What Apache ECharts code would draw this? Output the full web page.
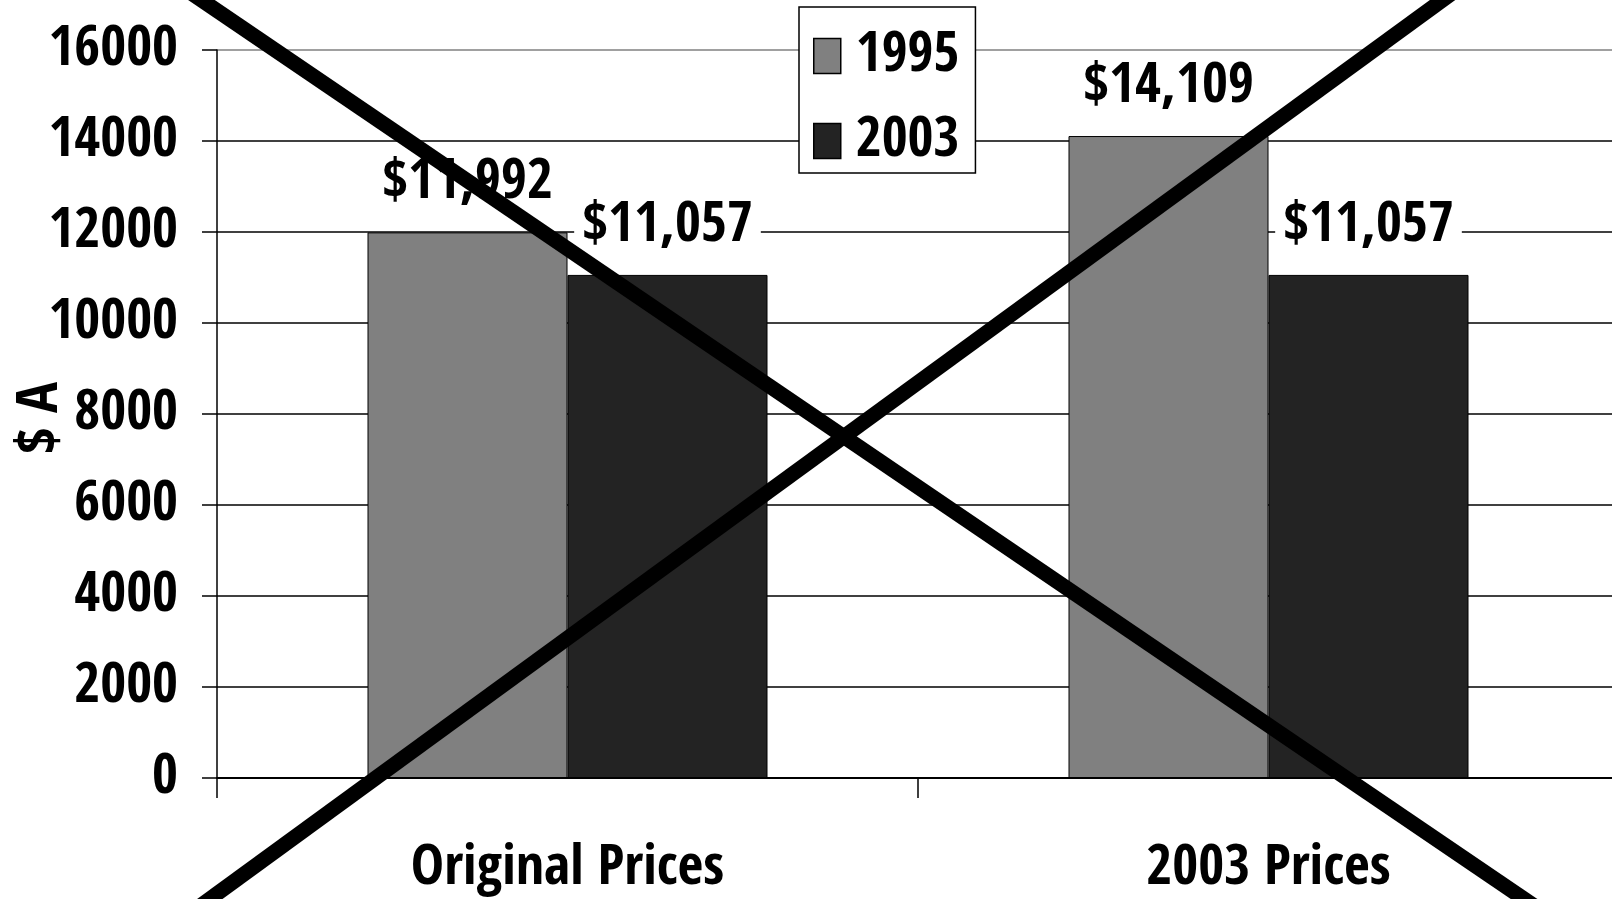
<!DOCTYPE html>
<html>
<head>
<meta charset="utf-8">
<script src="https://cdn.jsdelivr.net/npm/echarts@6/dist/echarts.min.js"></script>
<style>
  html, body { margin: 0; padding: 0; background: #fff; }
  #main { width: 1612px; height: 899px; }
</style>
</head>
<body>
<div id="main"></div>
<script>
const categories = ['Original Prices', '2003 Prices'];
const seriesNames = ['1995', '2003'];
const values1995 = [11992, 14109];
const values2003 = [11057, 11057];
const yTicks = [0, 2000, 4000, 6000, 8000, 10000, 12000, 14000, 16000];

const font = "'Open Sans Condensed', 'Liberation Sans Narrow', 'Arial Narrow', sans-serif";

// the big cross drawn over the whole chart
const crossLines = [
  [172, -20, 1555, 920],
  [1470, -20, 181, 920]
];

const fmt = p => '$' + p.value.toLocaleString('en-US');

const labelStyle = {
  show: true,
  position: 'top',
  distance: 13,
  formatter: fmt,
  fontFamily: font,
  fontWeight: 'bold',
  fontSize: 56,
  lineHeight: 56,
  color: '#000',
  backgroundColor: '#fff',
  padding: [8, 8, 8, 8]
};

let main = document.getElementById('main');
let myChart = echarts.init(main, null, { renderer: 'canvas' });

let option = {
  backgroundColor: '#fff',
  animation: false,
  grid: { left: 217, top: 50, bottom: 121, width: 1402, outerBoundsMode: 'none', containLabel: false },
  legend: {
    orient: 'vertical',
    left: 799,
    top: 7,
    data: seriesNames,
    icon: 'rect',
    itemWidth: 27,
    itemHeight: 35,
    itemGap: 25,
    padding: [19, 16, 2, 14],
    backgroundColor: '#fff',
    borderColor: '#000',
    borderWidth: 1.5,
    borderRadius: 0,
    itemStyle: { borderColor: '#000', borderWidth: 1.5 },
    textStyle: {
      fontFamily: font,
      fontWeight: 'bold',
      fontSize: 56,
      lineHeight: 60,
      color: '#000',
      padding: [0, 0, 0, 10]
    }
  },
  xAxis: {
    type: 'category',
    data: categories,
    axisLine: { lineStyle: { color: '#000', width: 2 } },
    axisTick: { show: true, length: 20, interval: 0, lineStyle: { color: '#000', width: 1.5 } },
    axisLabel: {
      interval: 0,
      margin: 63,
      fontFamily: font,
      fontWeight: 'bold',
      fontSize: 56,
      lineHeight: 56,
      color: '#000'
    },
    splitLine: { show: false }
  },
  yAxis: {
    type: 'value',
    min: yTicks[0],
    max: yTicks[yTicks.length - 1],
    interval: 2000,
    name: '$ A',
    nameLocation: 'middle',
    nameGap: 147,
    nameRotate: 90,
    nameMoveOverlap: false,
    nameTextStyle: {
      fontFamily: font,
      fontWeight: 'bold',
      fontSize: 58,
      lineHeight: 56,
      color: '#000',
      padding: [0, 8, 0, 0]
    },
    axisLine: { show: true, lineStyle: { color: '#000', width: 1.5 } },
    axisTick: { show: true, length: 15, lineStyle: { color: '#000', width: 1.5 } },
    axisLabel: {
      margin: 39,
      formatter: v => String(v),
      fontFamily: font,
      fontWeight: 'bold',
      fontSize: 56,
      color: '#000'
    },
    splitLine: {
      show: true,
      lineStyle: {
        width: 1.5,
        color: ['#000', '#000', '#000', '#000', '#000', '#000', '#000', '#000', '#808080']
      }
    }
  },
  series: [
    {
      name: seriesNames[0],
      type: 'bar',
      data: values1995,
      barWidth: 200,
      barGap: '0%',
      itemStyle: { color: '#808080', borderColor: '#000', borderWidth: 1 },
      label: labelStyle
    },
    {
      name: seriesNames[1],
      type: 'bar',
      data: values2003,
      barWidth: 200,
      barGap: '0%',
      itemStyle: { color: '#232323', borderColor: '#000', borderWidth: 1 },
      label: labelStyle
    }
  ],
  graphic: crossLines.map(l => ({
    type: 'line',
    z: 100,
    silent: true,
    shape: { x1: l[0], y1: l[1], x2: l[2], y2: l[3] },
    style: { stroke: '#000', lineWidth: 15 }
  }))
};

myChart.setOption(option);
window.onresize = function () {
  myChart.resize()
}
</script>
</body>
</html>
